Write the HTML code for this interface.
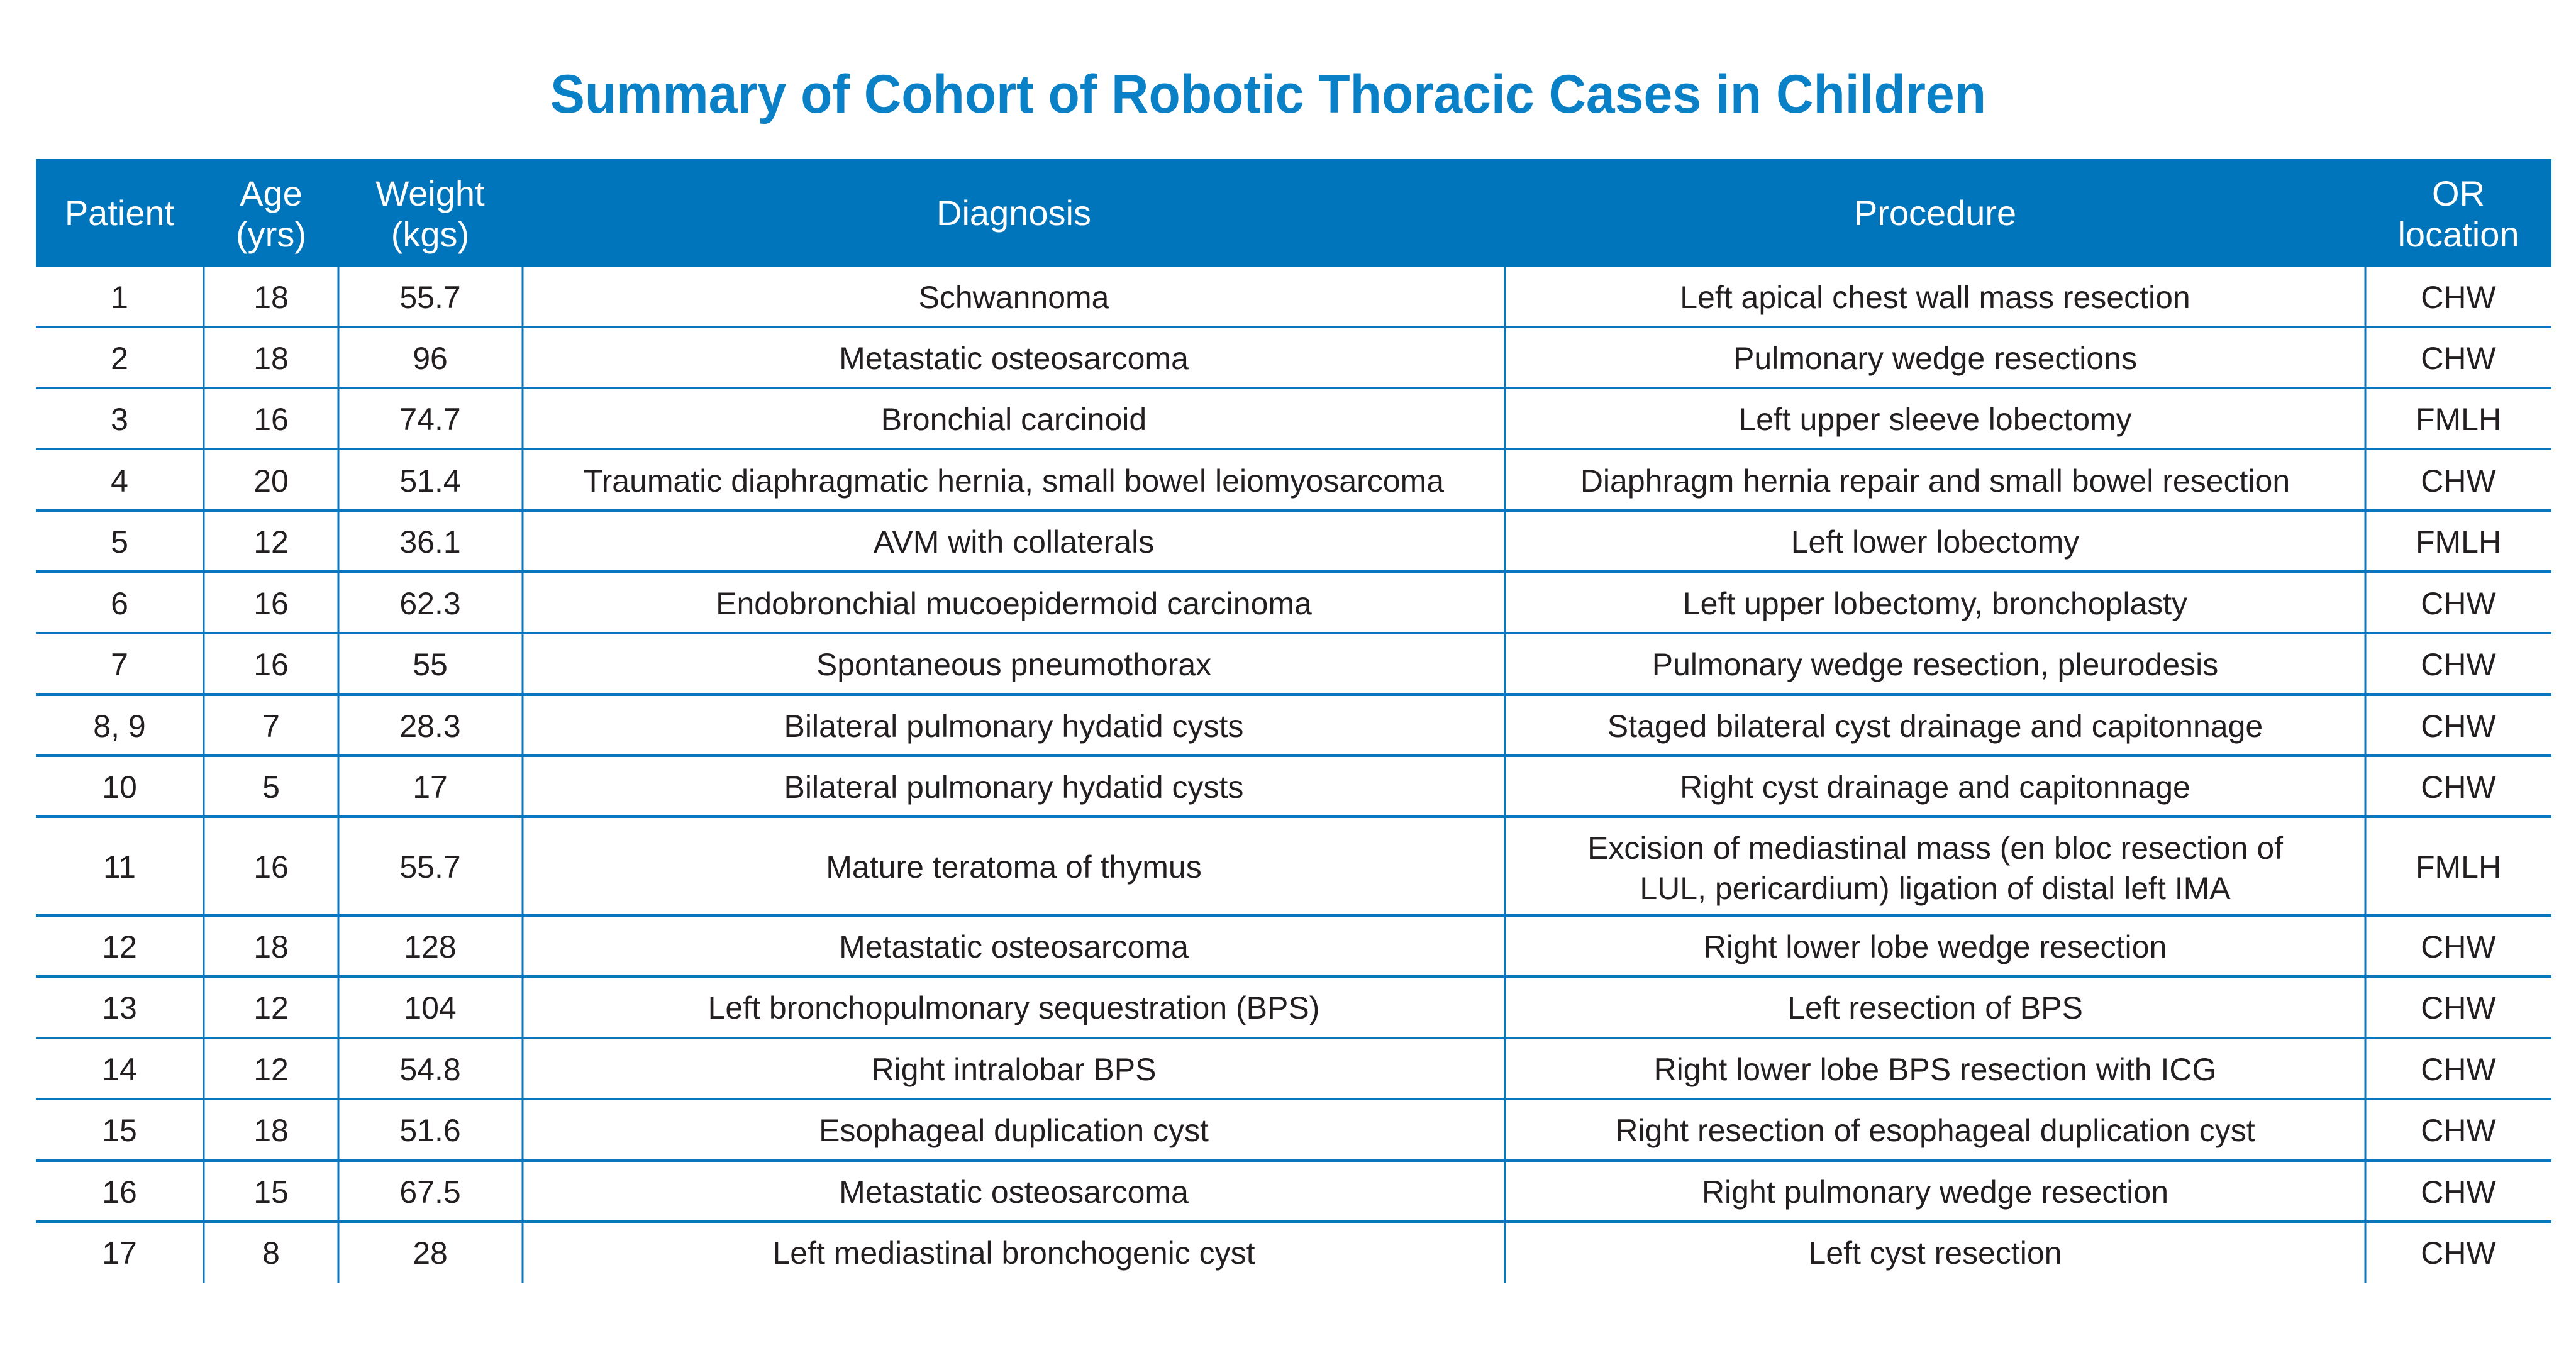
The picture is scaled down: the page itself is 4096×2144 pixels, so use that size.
<!DOCTYPE html>
<html><head><meta charset="utf-8"><style>
html,body{margin:0;padding:0;background:#fff;}
svg{display:block;}
</style></head><body>
<svg width="4096" height="2144" viewBox="0 0 4096 2144" xmlns="http://www.w3.org/2000/svg">
<rect width="4096" height="2144" fill="#fff"/>
<text x="875" y="179" font-family="Liberation Sans, sans-serif" font-weight="bold" font-size="86" fill="#0a80c6" textLength="2283" lengthAdjust="spacingAndGlyphs">Summary of Cohort of Robotic Thoracic Cases in Children</text>
<rect x="57" y="253" width="4000" height="171" fill="#0075bb"/>
<g font-family="Liberation Sans, sans-serif" font-size="56" fill="#fff" text-anchor="middle">
<text x="190" y="358">Patient</text>
<text x="431" y="327">Age</text><text x="431" y="392">(yrs)</text>
<text x="684" y="327">Weight</text><text x="684" y="392">(kgs)</text>
<text x="1612" y="358">Diagnosis</text>
<text x="3077" y="358">Procedure</text>
<text x="3909" y="327">OR</text><text x="3909" y="392">location</text>
</g>
<g stroke="#0a76bd" stroke-width="3">
<line x1="324" y1="424" x2="324" y2="2040"/>
<line x1="538" y1="424" x2="538" y2="2040"/>
<line x1="831" y1="424" x2="831" y2="2040"/>
<line x1="2393" y1="424" x2="2393" y2="2040"/>
<line x1="3761" y1="424" x2="3761" y2="2040"/>
</g>
<g stroke="#0a76bd" stroke-width="4">
<line x1="57" y1="520" x2="4057" y2="520"/>
<line x1="57" y1="617" x2="4057" y2="617"/>
<line x1="57" y1="714" x2="4057" y2="714"/>
<line x1="57" y1="812" x2="4057" y2="812"/>
<line x1="57" y1="909" x2="4057" y2="909"/>
<line x1="57" y1="1007" x2="4057" y2="1007"/>
<line x1="57" y1="1105" x2="4057" y2="1105"/>
<line x1="57" y1="1202" x2="4057" y2="1202"/>
<line x1="57" y1="1299" x2="4057" y2="1299"/>
<line x1="57" y1="1456" x2="4057" y2="1456"/>
<line x1="57" y1="1553" x2="4057" y2="1553"/>
<line x1="57" y1="1651" x2="4057" y2="1651"/>
<line x1="57" y1="1748" x2="4057" y2="1748"/>
<line x1="57" y1="1846" x2="4057" y2="1846"/>
<line x1="57" y1="1943" x2="4057" y2="1943"/>
</g>
<g font-family="Liberation Sans, sans-serif" font-size="50" fill="#231f20" text-anchor="middle">
<g transform="translate(0,490)"><text x="190">1</text><text x="431">18</text><text x="684">55.7</text><text x="1612">Schwannoma</text><text x="3077">Left apical chest wall mass resection</text><text x="3909">CHW</text></g>
<g transform="translate(0,587)"><text x="190">2</text><text x="431">18</text><text x="684">96</text><text x="1612">Metastatic osteosarcoma</text><text x="3077">Pulmonary wedge resections</text><text x="3909">CHW</text></g>
<g transform="translate(0,684)"><text x="190">3</text><text x="431">16</text><text x="684">74.7</text><text x="1612">Bronchial carcinoid</text><text x="3077">Left upper sleeve lobectomy</text><text x="3909">FMLH</text></g>
<g transform="translate(0,782)"><text x="190">4</text><text x="431">20</text><text x="684">51.4</text><text x="1612">Traumatic diaphragmatic hernia, small bowel leiomyosarcoma</text><text x="3077">Diaphragm hernia repair and small bowel resection</text><text x="3909">CHW</text></g>
<g transform="translate(0,879)"><text x="190">5</text><text x="431">12</text><text x="684">36.1</text><text x="1612">AVM with collaterals</text><text x="3077">Left lower lobectomy</text><text x="3909">FMLH</text></g>
<g transform="translate(0,977)"><text x="190">6</text><text x="431">16</text><text x="684">62.3</text><text x="1612">Endobronchial mucoepidermoid carcinoma</text><text x="3077">Left upper lobectomy, bronchoplasty</text><text x="3909">CHW</text></g>
<g transform="translate(0,1074)"><text x="190">7</text><text x="431">16</text><text x="684">55</text><text x="1612">Spontaneous pneumothorax</text><text x="3077">Pulmonary wedge resection, pleurodesis</text><text x="3909">CHW</text></g>
<g transform="translate(0,1172)"><text x="190">8, 9</text><text x="431">7</text><text x="684">28.3</text><text x="1612">Bilateral pulmonary hydatid cysts</text><text x="3077">Staged bilateral cyst drainage and capitonnage</text><text x="3909">CHW</text></g>
<g transform="translate(0,1269)"><text x="190">10</text><text x="431">5</text><text x="684">17</text><text x="1612">Bilateral pulmonary hydatid cysts</text><text x="3077">Right cyst drainage and capitonnage</text><text x="3909">CHW</text></g>
<g transform="translate(0,1396)"><text x="190">11</text><text x="431">16</text><text x="684">55.7</text><text x="1612">Mature teratoma of thymus</text><text x="3077" y="-30">Excision of mediastinal mass (en bloc resection of</text><text x="3077" y="34">LUL, pericardium) ligation of distal left IMA</text><text x="3909">FMLH</text></g>
<g transform="translate(0,1523)"><text x="190">12</text><text x="431">18</text><text x="684">128</text><text x="1612">Metastatic osteosarcoma</text><text x="3077">Right lower lobe wedge resection</text><text x="3909">CHW</text></g>
<g transform="translate(0,1620)"><text x="190">13</text><text x="431">12</text><text x="684">104</text><text x="1612">Left bronchopulmonary sequestration (BPS)</text><text x="3077">Left resection of BPS</text><text x="3909">CHW</text></g>
<g transform="translate(0,1718)"><text x="190">14</text><text x="431">12</text><text x="684">54.8</text><text x="1612">Right intralobar BPS</text><text x="3077">Right lower lobe BPS resection with ICG</text><text x="3909">CHW</text></g>
<g transform="translate(0,1815)"><text x="190">15</text><text x="431">18</text><text x="684">51.6</text><text x="1612">Esophageal duplication cyst</text><text x="3077">Right resection of esophageal duplication cyst</text><text x="3909">CHW</text></g>
<g transform="translate(0,1913)"><text x="190">16</text><text x="431">15</text><text x="684">67.5</text><text x="1612">Metastatic osteosarcoma</text><text x="3077">Right pulmonary wedge resection</text><text x="3909">CHW</text></g>
<g transform="translate(0,2010)"><text x="190">17</text><text x="431">8</text><text x="684">28</text><text x="1612">Left mediastinal bronchogenic cyst</text><text x="3077">Left cyst resection</text><text x="3909">CHW</text></g>
</g>
</svg>
</body></html>
